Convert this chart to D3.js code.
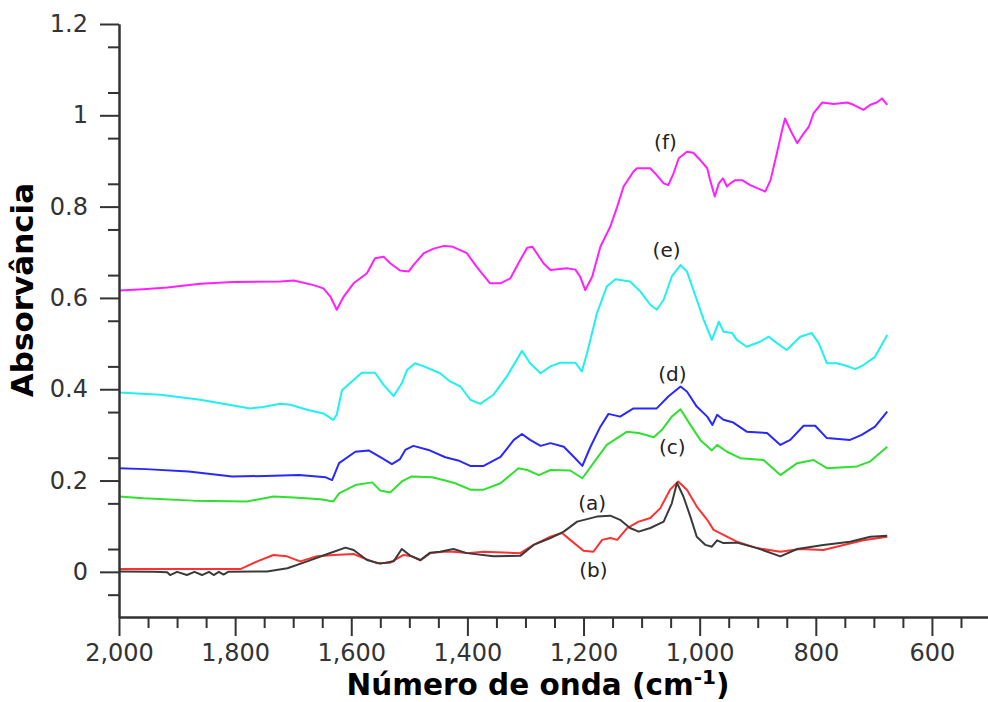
<!DOCTYPE html>
<html lang="pt">
  <head>
    <meta charset="UTF-8" />
    <title>Absorvância</title>
    <style>
      body { margin: 0; background: #fff; }
      text { font-family: "DejaVu Sans", sans-serif; }
    </style>
  </head>
  <body>
    <svg width="988" height="702"></svg>

    <script src="https://d3js.org/d3.v7.min.js"></script>
    <script>
      // espectros: [numero de onda, absorvancia]
      var serieA = [[2000,0.001],[1940,0.000],[1917,-0.001],[1912,-0.007],[1900,0.000],[1883,-0.007],[1870,0.000],[1857,-0.007],[1845,0.000],[1837,-0.007],[1828,0.000],[1820,-0.006],[1812,0.000],[1745,0.001],[1710,0.008],[1676,0.023],[1641,0.039],[1610,0.053],[1596,0.048],[1573,0.026],[1550,0.018],[1527,0.023],[1513,0.050],[1498,0.035],[1481,0.026],[1464,0.042],[1447,0.044],[1424,0.050],[1401,0.041],[1355,0.034],[1309,0.035],[1286,0.059],[1257,0.074],[1234,0.088],[1211,0.110],[1177,0.121],[1154,0.123],[1137,0.114],[1120,0.096],[1105,0.088],[1085,0.096],[1062,0.110],[1048,0.150],[1039,0.195],[1028,0.165],[1016,0.121],[1005,0.077],[990,0.059],[979,0.055],[970,0.069],[959,0.063],[936,0.064],[901,0.052],[861,0.034],[832,0.050],[787,0.059],[741,0.066],[706,0.077],[677,0.079]];
      var serieB = [[2000,0.006],[1791,0.006],[1762,0.023],[1734,0.037],[1711,0.034],[1688,0.023],[1659,0.034],[1630,0.037],[1596,0.039],[1579,0.030],[1556,0.019],[1533,0.020],[1510,0.037],[1495,0.034],[1481,0.025],[1464,0.041],[1441,0.044],[1424,0.044],[1401,0.041],[1372,0.044],[1309,0.041],[1286,0.059],[1257,0.077],[1237,0.085],[1223,0.070],[1200,0.046],[1183,0.044],[1168,0.070],[1154,0.074],[1142,0.070],[1125,0.096],[1105,0.110],[1085,0.118],[1068,0.139],[1051,0.180],[1037,0.198],[1022,0.180],[1005,0.143],[987,0.114],[976,0.092],[959,0.081],[936,0.066],[901,0.052],[861,0.044],[827,0.050],[787,0.048],[752,0.059],[718,0.069],[677,0.077]];
      var serieC = [[2000,0.165],[1958,0.161],[1872,0.156],[1780,0.154],[1734,0.165],[1699,0.163],[1653,0.159],[1631,0.154],[1621,0.172],[1593,0.190],[1564,0.196],[1550,0.178],[1533,0.174],[1513,0.198],[1496,0.209],[1461,0.207],[1438,0.200],[1421,0.194],[1395,0.180],[1372,0.180],[1343,0.194],[1312,0.227],[1297,0.223],[1277,0.212],[1257,0.223],[1223,0.222],[1202,0.205],[1183,0.238],[1160,0.278],[1125,0.307],[1105,0.304],[1079,0.295],[1065,0.311],[1048,0.340],[1033,0.356],[1016,0.322],[999,0.289],[979,0.266],[970,0.278],[953,0.263],[930,0.249],[890,0.245],[861,0.212],[832,0.238],[804,0.245],[781,0.227],[729,0.231],[706,0.242],[677,0.274]];
      var serieD = [[2000,0.227],[1954,0.225],[1880,0.220],[1805,0.209],[1748,0.210],[1690,0.212],[1644,0.207],[1633,0.201],[1621,0.238],[1593,0.263],[1570,0.266],[1547,0.249],[1530,0.236],[1516,0.247],[1507,0.267],[1493,0.276],[1467,0.267],[1438,0.251],[1416,0.244],[1395,0.232],[1372,0.232],[1343,0.252],[1320,0.289],[1306,0.302],[1292,0.289],[1274,0.276],[1257,0.282],[1234,0.274],[1217,0.252],[1202,0.232],[1188,0.274],[1171,0.318],[1157,0.346],[1137,0.340],[1114,0.358],[1074,0.358],[1054,0.384],[1033,0.406],[1022,0.395],[1005,0.362],[987,0.340],[978,0.322],[970,0.344],[959,0.333],[942,0.327],[919,0.307],[884,0.304],[861,0.278],[844,0.289],[821,0.320],[801,0.320],[781,0.293],[741,0.289],[721,0.300],[698,0.318],[677,0.351]];
      var serieE = [[2000,0.393],[1929,0.388],[1860,0.377],[1774,0.358],[1752,0.361],[1722,0.368],[1705,0.366],[1676,0.355],[1648,0.347],[1631,0.333],[1625,0.344],[1616,0.398],[1596,0.420],[1582,0.436],[1559,0.436],[1544,0.409],[1527,0.385],[1513,0.413],[1504,0.442],[1490,0.457],[1475,0.450],[1447,0.435],[1430,0.417],[1412,0.406],[1395,0.377],[1378,0.368],[1355,0.388],[1332,0.428],[1306,0.484],[1292,0.457],[1274,0.435],[1257,0.450],[1240,0.458],[1214,0.458],[1203,0.439],[1194,0.479],[1177,0.566],[1160,0.625],[1145,0.641],[1120,0.636],[1102,0.614],[1085,0.585],[1074,0.574],[1062,0.596],[1048,0.647],[1033,0.672],[1022,0.658],[1005,0.596],[993,0.552],[979,0.508],[967,0.548],[959,0.526],[944,0.523],[936,0.508],[919,0.493],[896,0.504],[881,0.515],[867,0.501],[850,0.486],[827,0.515],[807,0.523],[795,0.501],[781,0.457],[764,0.457],[746,0.451],[732,0.444],[718,0.453],[698,0.471],[677,0.519]];
      var serieF = [[2000,0.616],[1958,0.619],[1917,0.623],[1860,0.631],[1803,0.635],[1722,0.636],[1699,0.638],[1665,0.628],[1648,0.621],[1636,0.603],[1625,0.574],[1613,0.603],[1596,0.632],[1573,0.654],[1559,0.687],[1544,0.690],[1533,0.676],[1516,0.660],[1501,0.658],[1493,0.672],[1475,0.698],[1458,0.708],[1440,0.714],[1425,0.712],[1401,0.698],[1384,0.668],[1361,0.632],[1343,0.632],[1326,0.643],[1309,0.683],[1297,0.710],[1288,0.712],[1269,0.676],[1257,0.661],[1229,0.665],[1214,0.662],[1206,0.647],[1197,0.617],[1185,0.647],[1171,0.712],[1154,0.756],[1142,0.800],[1131,0.844],[1114,0.877],[1108,0.884],[1085,0.884],[1074,0.869],[1062,0.851],[1054,0.847],[1045,0.873],[1036,0.906],[1022,0.920],[1011,0.918],[999,0.902],[987,0.884],[982,0.858],[974,0.822],[967,0.851],[960,0.862],[953,0.844],[947,0.851],[939,0.858],[927,0.858],[913,0.847],[887,0.833],[878,0.858],[867,0.917],[858,0.968],[853,0.993],[844,0.968],[832,0.939],[821,0.960],[812,0.975],[804,1.004],[789,1.028],[769,1.025],[746,1.028],[735,1.023],[718,1.012],[706,1.023],[695,1.028],[686,1.037],[677,1.023]];

      var nomes = ["(a)", "(b)", "(c)", "(d)", "(e)", "(f)"];
      var cores = ["#3a3a3a", "#ff3030", "#30e030", "#2828ff", "#20f0f0", "#ff20ff"];
      // posicao dos rotulos (numero de onda, absorvancia)
      var rotuloX = [1185, 1183, 1047, 1047, 1057, 1059];
      var rotuloY = [0.151, 0.004, 0.274, 0.434, 0.705, 0.942];

      var xTicks = [2000, 1800, 1600, 1400, 1200, 1000, 800, 600];
      var yTicks = [0, 0.2, 0.4, 0.6, 0.8, 1, 1.2];

      var svg = d3.select("svg");
      var x = d3.scaleLinear().domain([2000, 500]).range([119, 990]);
      var y = d3.scaleLinear().domain([-0.1, 1.2]).range([617.5, 24]);

      var series = [serieB, serieA, serieC, serieD, serieE, serieF];
      var ordem = [1, 0, 2, 3, 4, 5];

      var line = d3.line()
        .x(function (d) { return x(d[0]); })
        .y(function (d) { return y(d[1]); });

      svg.selectAll("path.serie")
        .data(series)
        .enter()
        .append("path")
        .attr("class", "serie")
        .attr("d", line)
        .attr("fill", "none")
        .attr("stroke", function (d, i) { return cores[ordem[i]]; })
        .attr("stroke-width", 2)
        .attr("stroke-linejoin", "round");

      // eixos
      function estilo(g) {
        g.selectAll("path, line").attr("stroke", "#333").attr("stroke-width", 2);
        g.selectAll("text").attr("fill", "#333").style("font-size", "24px")
          .style("font-family", "'DejaVu Sans', sans-serif");
      }

      var minX = d3.range(550, 2001, 50).filter(function (v) { return v % 200 !== 0; });
      var minY = d3.range(-0.05, 1.2, 0.1);

      svg.append("g")
        .attr("transform", "translate(0,617)")
        .call(d3.axisBottom(x).tickValues(minX).tickSize(11).tickSizeOuter(0).tickFormat(""))
        .call(estilo);
      svg.append("g")
        .attr("transform", "translate(0,617)")
        .call(d3.axisBottom(x).tickValues(xTicks).tickSize(19).tickSizeOuter(0)
          .tickPadding(8).tickFormat(d3.format(",")))
        .call(estilo);

      svg.append("g")
        .attr("transform", "translate(119,0)")
        .call(d3.axisLeft(y).tickValues(minY).tickSize(11).tickSizeOuter(0).tickFormat(""))
        .call(estilo);
      svg.append("g")
        .attr("transform", "translate(119,0)")
        .call(d3.axisLeft(y).tickValues(yTicks).tickSize(19).tickSizeOuter(0)
          .tickPadding(12).tickFormat(d3.format("~g")))
        .call(estilo);

      // rotulos das curvas
      svg.selectAll("text.rotulo")
        .data(nomes)
        .enter()
        .append("text")
        .attr("class", "rotulo")
        .attr("x", function (d, i) { return x(rotuloX[i]); })
        .attr("y", function (d, i) { return y(rotuloY[i]); })
        .attr("dy", "0.35em")
        .attr("text-anchor", "middle")
        .attr("fill", "#222")
        .style("font-size", "20px")
        .text(function (d) { return d; });

      // titulos
      svg.append("text")
        .attr("transform", "translate(33,290) rotate(-90)")
        .attr("text-anchor", "middle")
        .attr("fill", "#000")
        .style("font-size", "31px")
        .style("font-weight", "bold")
        .text("Absorvância");

      var tx = svg.append("text")
        .attr("x", 538)
        .attr("y", 695)
        .attr("text-anchor", "middle")
        .attr("fill", "#000")
        .style("font-size", "29.5px")
        .style("font-weight", "bold");
      tx.append("tspan").text("Número de onda (cm");
      tx.append("tspan").attr("dy", "-11").style("font-size", "20px").text("-1");
      tx.append("tspan").attr("dy", "11").text(")");
    </script>
  </body>
</html>
